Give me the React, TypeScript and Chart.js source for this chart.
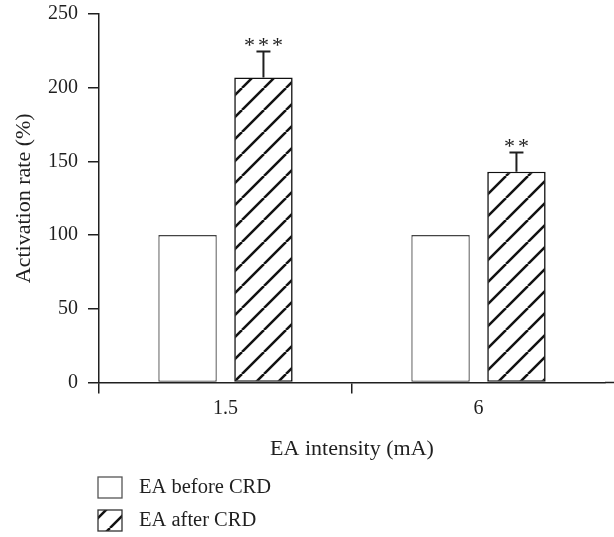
import React, { useEffect, useRef } from 'react';
import { Chart, registerables } from 'chart.js';

Chart.register(...registerables);

// ---- data ----
const categories = ['1.5', '6'];
const seriesLabels = ['EA before CRD', 'EA after CRD'];
const beforeValues = [100, 100];
const afterValues = [207, 143];
const afterErrors = [17.5, 13];
const significance = ['***', '**'];
const yTicks = [0, 50, 100, 150, 200, 250];
const xTitle = 'EA intensity (mA)';
const yTitle = 'Activation rate (%)';

const FONT = '"Liberation Serif", "Times New Roman", serif';
const INK = '#1f1f1f';

function makeHatch(): CanvasPattern | string {
  const s = 22;
  const c = document.createElement('canvas');
  c.width = s;
  c.height = s;
  const g = c.getContext('2d');
  if (!g) return '#888';
  g.fillStyle = '#ffffff';
  g.fillRect(0, 0, s, s);
  g.strokeStyle = '#111111';
  g.lineWidth = 2.5;
  for (const k of [-1, 0, 1]) {
    g.beginPath();
    g.moveTo(k * s, s);
    g.lineTo(k * s + s, 0);
    g.stroke();
  }
  return g.createPattern(c, 'repeat') || '#888';
}

export default function App() {
  const canvasRef = useRef<HTMLCanvasElement | null>(null);

  useEffect(() => {
    const canvas = canvasRef.current;
    if (!canvas) return;
    Chart.defaults.font.family = FONT;
    const hatch = makeHatch();

    const errorBarPlugin = {
      id: 'errorBars',
      afterDatasetsDraw(chart: any) {
        const meta = chart.getDatasetMeta(1);
        const y = chart.scales.y;
        const ctx = chart.ctx as CanvasRenderingContext2D;
        ctx.save();
        ctx.strokeStyle = INK;
        ctx.lineWidth = 2;
        meta.data.forEach((bar: any, i: number) => {
          const x = bar.x;
          const top = y.getPixelForValue(afterValues[i]);
          const high = y.getPixelForValue(afterValues[i] + afterErrors[i]);
          ctx.beginPath();
          ctx.moveTo(x, top);
          ctx.lineTo(x, high);
          ctx.moveTo(x - 7, high);
          ctx.lineTo(x + 7, high);
          ctx.stroke();
          ctx.fillStyle = INK;
          ctx.font = `22px ${FONT}`;
          (ctx as any).letterSpacing = '3px';
          ctx.textAlign = 'center';
          ctx.textBaseline = 'alphabetic';
          ctx.fillText(significance[i], x + 1.5, high);
          (ctx as any).letterSpacing = '0px';
        });
        ctx.restore();
      },
    };

    const extrasPlugin = {
      id: 'extras',
      afterDraw(chart: any) {
        const ctx = chart.ctx as CanvasRenderingContext2D;
        const area = chart.chartArea;
        ctx.save();
        // extend x axis line to the right edge
        ctx.strokeStyle = INK;
        ctx.lineWidth = 1.5;
        ctx.beginPath();
        ctx.moveTo(area.right, area.bottom);
        ctx.lineTo(chart.width, area.bottom);
        ctx.stroke();
        // manual vertical legend
        const fills = ['#ffffff', hatch];
        const borders = ['#555555', '#333333'];
        const boxX = 98;
        const baseY = chart.height - 60;
        seriesLabels.forEach((label, i) => {
          const by = baseY + i * 33;
          ctx.fillStyle = fills[i] as any;
          ctx.fillRect(boxX, by, 24, 21);
          ctx.strokeStyle = borders[i];
          ctx.lineWidth = 1.3;
          ctx.strokeRect(boxX, by, 24, 21);
          ctx.fillStyle = INK;
          ctx.font = `20.5px ${FONT}`;
          ctx.textAlign = 'left';
          ctx.textBaseline = 'middle';
          ctx.fillText(label, 139, by + 11);
        });
        ctx.restore();
      },
    };

    const chart = new Chart(canvas, {
      type: 'bar',
      data: {
        labels: categories,
        datasets: [
          {
            label: seriesLabels[0],
            data: beforeValues,
            backgroundColor: '#ffffff',
            borderColor: '#444444',
            borderWidth: 1.3,
            borderSkipped: false,
          },
          {
            label: seriesLabels[1],
            data: afterValues,
            backgroundColor: hatch as any,
            borderColor: '#111111',
            borderWidth: 1.6,
            borderSkipped: false,
          },
        ],
      },
      options: {
        responsive: false,
        animation: false,
        layout: { padding: { left: 0, right: 9, top: 14, bottom: 67 } },
        datasets: { bar: { categoryPercentage: 0.6, barPercentage: 0.77 } },
        plugins: {
          legend: { display: false },
          tooltip: { enabled: false },
        },
        scales: {
          x: {
            offset: true,
            grid: {
              offset: true,
              drawOnChartArea: false,
              drawTicks: true,
              tickLength: 11,
              lineWidth: 1.5,
              color: (c: any) =>
                c.index === undefined || c.index >= categories.length || c.type !== 'tick'
                  ? 'rgba(0,0,0,0)'
                  : INK,
            },
            border: { color: INK, width: 1.5 },
            ticks: { color: INK, font: { family: FONT, size: 20 }, padding: 3 },
            title: {
              display: true,
              text: xTitle,
              color: INK,
              font: { family: FONT, size: 22 },
              padding: { top: 0, bottom: 8 },
            },
            afterFit: (s: any) => {
              s.height = 87.5;
            },
          },
          y: {
            min: 0,
            max: 250,
            afterBuildTicks: (s: any) => {
              s.ticks = yTicks.map((v) => ({ value: v }));
            },
            grid: { drawOnChartArea: false, tickLength: 11, lineWidth: 1.5, color: INK },
            border: { color: INK, width: 1.5 },
            ticks: { color: INK, font: { family: FONT, size: 20 }, padding: 10 },
            title: {
              display: true,
              text: yTitle,
              color: INK,
              font: { family: FONT, size: 22 },
              padding: { top: 11, bottom: 0 },
            },
            afterFit: (s: any) => {
              s.width = 99;
              s.paddingTop = 0;
              s.paddingBottom = 0;
            },
          },
        },
      } as any,
      plugins: [errorBarPlugin, extrasPlugin],
    });

    return () => {
      chart.destroy();
    };
  }, []);

  return (
    <div style={{ position: 'fixed', left: 0, top: 0, width: 614, height: 537, background: '#fff' }}>
      <canvas ref={canvasRef} width={614} height={537} style={{ display: 'block' }} />
    </div>
  );
}
